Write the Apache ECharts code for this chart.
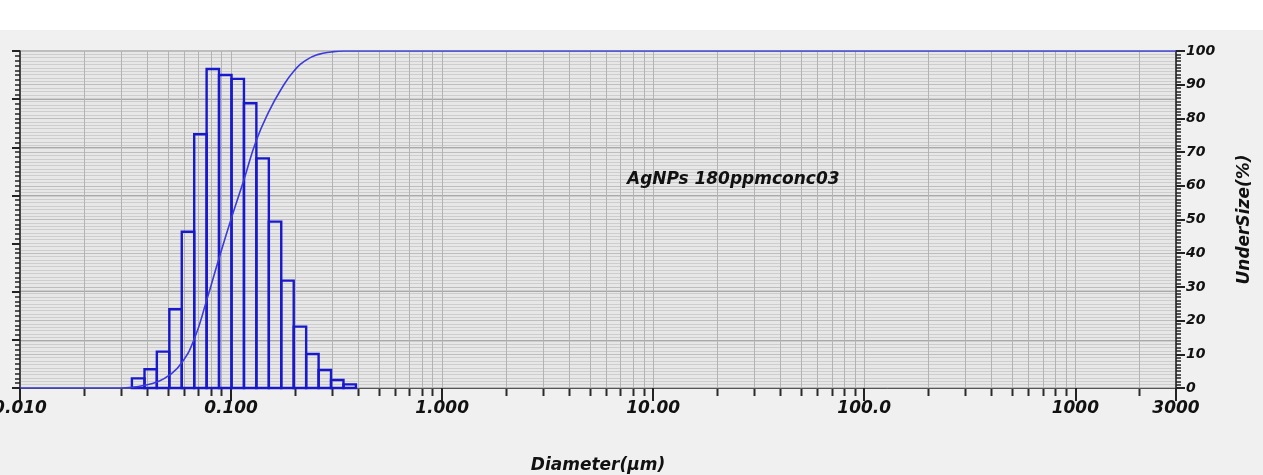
<!DOCTYPE html>
<html>
<head>
<meta charset="utf-8">
<script src="https://cdn.jsdelivr.net/npm/echarts@6/dist/echarts.min.js"></script>
<style>
  html, body { margin: 0; padding: 0; background: #f0f0f0; }
  #chart { width: 1263px; height: 475px; }
</style>
</head>
<body>
<div id="chart"></div>
<script>
// Size-class boundaries (µm) of the channels that carry particles
const binEdges = [0.0339, 0.0389, 0.0445, 0.0510, 0.0584, 0.0669, 0.0766, 0.0877, 0.1005,
                  0.1151, 0.1318, 0.1510, 0.1729, 0.1981, 0.2269, 0.2599, 0.2976, 0.3409, 0.3905];
// Frequency q (%) in each channel (left axis)
const frequency = [0.40, 0.78, 1.51, 3.27, 6.49, 10.54, 13.25, 13.00, 12.84,
                   11.83, 9.54, 6.91, 4.46, 2.55, 1.41, 0.75, 0.33, 0.15];
// Cumulative undersize curve (right axis)
const curveSizes = [0.01, 0.0296, 0.0339, 0.0389, 0.0445, 0.0510, 0.0584, 0.0669, 0.0766, 0.0877,
                    0.1005, 0.1151, 0.1318, 0.1510, 0.1729, 0.1981, 0.2269, 0.2599, 0.2976,
                    0.3409, 0.3905, 3000];
const undersize = [0, 0, 0.2, 0.8, 1.8, 3.8, 7.5, 14.5, 26, 38.5,
                   50.5, 61.8, 73.5, 82, 88.7, 94, 97.3, 99, 99.7,
                   100, 100, 100];
// Diameter axis labels
const xTickValues = [0.01, 0.1, 1, 10, 100, 1000, 3000];
const xTickLabels = ['0.010', '0.100', '1.000', '10.00', '100.0', '1000', '3000'];
const sampleName = 'AgNPs 180ppmconc03';

// Log-axis subdivisions 2..9 within each decade, plus the decade lines
const logGridValues = [];
for (let d = -2; d <= 3; d++) {
  for (let m = 1; m <= 9; m++) {
    const v = m * Math.pow(10, d);
    if (v > 0.01 && v < 3000) logGridValues.push([v, m === 1 ? 1 : 0]);
  }
}

const FONT = 'DejaVu Sans';
const chart = echarts.init(document.getElementById('chart'), null, { renderer: 'canvas' });

function xLabel(value) {
  let best = 0, bestErr = Infinity;
  xTickValues.forEach((t, i) => {
    const e = Math.abs(Math.log10(value) - Math.log10(t));
    if (e < bestErr) { bestErr = e; best = i; }
  });
  return bestErr < 0.01 ? xTickLabels[best] : '';
}

function renderLogGrid(params, api) {
  const v = api.value(0);
  const major = api.value(1) === 1;
  const top = api.coord([v, 14]);
  const bot = api.coord([v, 0]);
  const x = Math.round(bot[0]) + 0.5;
  const children = [{
    type: 'line',
    shape: { x1: x, y1: top[1], x2: x, y2: bot[1] },
    style: { stroke: '#b3b3b3', lineWidth: 1 }
  }];
  if (!major) {
    children.push({
      type: 'line',
      shape: { x1: x, y1: bot[1] + 1, x2: x, y2: bot[1] + 8 },
      style: { stroke: '#2a2a2a', lineWidth: 2 }
    });
  }
  return { type: 'group', children };
}

function renderBar(params, api) {
  const p0 = api.coord([api.value(0), api.value(2)]);
  const p1 = api.coord([api.value(1), 0]);
  return {
    type: 'rect',
    shape: { x: p0[0], y: p0[1], width: p1[0] - p0[0], height: p1[1] - p0[1] },
    style: { fill: 'none', stroke: '#1818cc', lineWidth: 2.4 }
  };
}

const option = {
  backgroundColor: '#f0f0f0',
  animation: false,
  graphic: [
    { type: 'rect', left: 0, top: 0, shape: { width: 1263, height: 30 }, style: { fill: '#ffffff' }, silent: true },
    {
      type: 'text', left: 627, top: 171, z: 10,
      style: {
        text: sampleName, fill: '#111',
        fontFamily: FONT, fontWeight: 'bold', fontStyle: 'italic', fontSize: 17
      }
    }
  ],
  grid: {
    left: 20, right: 87, top: 51, bottom: 87,
    containLabel: false, outerBoundsMode: 'none',
    show: true, backgroundColor: '#e7e7e7', borderColor: '#8a8a8a', borderWidth: 1
  },
  xAxis: {
    type: 'log', logBase: 10, min: 0.01, max: 3000,
    name: 'Diameter(µm)', nameLocation: 'middle', nameGap: 69,
    nameTextStyle: { fontFamily: FONT, fontWeight: 'bold', fontStyle: 'italic', fontSize: 17, color: '#111' },
    axisLine: { show: true, onZero: false, lineStyle: { color: '#555', width: 1 } },
    axisTick: { show: true, length: 13, lineStyle: { color: '#222', width: 2 } },
    minorTick: { show: false },
    splitLine: { show: false },
    axisLabel: {
      margin: 12, formatter: xLabel, showMinLabel: true, showMaxLabel: true, hideOverlap: false,
      fontFamily: FONT, fontWeight: 'bold', fontStyle: 'italic', fontSize: 17, color: '#111'
    }
  },
  yAxis: [
    {
      type: 'value', min: 0, max: 14, interval: 2, position: 'left',
      axisLine: { show: true, lineStyle: { color: '#222', width: 1.5 } },
      axisTick: { show: true, length: 8, lineStyle: { color: '#222', width: 2 } },
      minorTick: { show: true, splitNumber: 10, length: 5, lineStyle: { color: '#222', width: 1.5 } },
      axisLabel: { show: false },
      splitLine: { show: true, lineStyle: { color: '#a9a9a9', width: 1 } }
    },
    {
      type: 'value', min: 0, max: 100, interval: 10, position: 'right',
      name: 'UnderSize(%)', nameLocation: 'middle', nameGap: 60,
      nameTextStyle: { fontFamily: FONT, fontWeight: 'bold', fontStyle: 'italic', fontSize: 17, color: '#111' },
      axisLine: { show: true, lineStyle: { color: '#222', width: 1.5 } },
      axisTick: { show: true, length: 9, lineStyle: { color: '#222', width: 2 } },
      minorTick: { show: true, splitNumber: 10, length: 5, lineStyle: { color: '#222', width: 1.5 } },
      axisLabel: {
        margin: 10,
        fontFamily: FONT, fontWeight: 'bold', fontStyle: 'italic', fontSize: 14, color: '#111'
      },
      splitLine: { show: true, lineStyle: { color: '#bdbdbd', width: 1 } },
      minorSplitLine: { show: true, lineStyle: { color: '#cdcdcd', width: 1 } }
    }
  ],
  series: [
    {
      type: 'custom', name: 'log grid', yAxisIndex: 0, z: 1, silent: true, clip: false,
      renderItem: renderLogGrid,
      encode: { x: 0, y: 1 },
      data: logGridValues
    },
    {
      type: 'custom', name: 'q(%)', yAxisIndex: 0, z: 3,
      renderItem: renderBar,
      encode: { x: [0, 1], y: 2 },
      data: frequency.map((q, i) => [binEdges[i], binEdges[i + 1], q])
    },
    {
      type: 'line', name: 'UnderSize(%)', yAxisIndex: 1, z: 4,
      smooth: 0.5, symbol: 'none',
      lineStyle: { color: '#3a3ade', width: 1.6 },
      data: curveSizes.map((s, i) => [s, undersize[i]])
    }
  ]
};

chart.setOption(option);
</script>
</body>
</html>
